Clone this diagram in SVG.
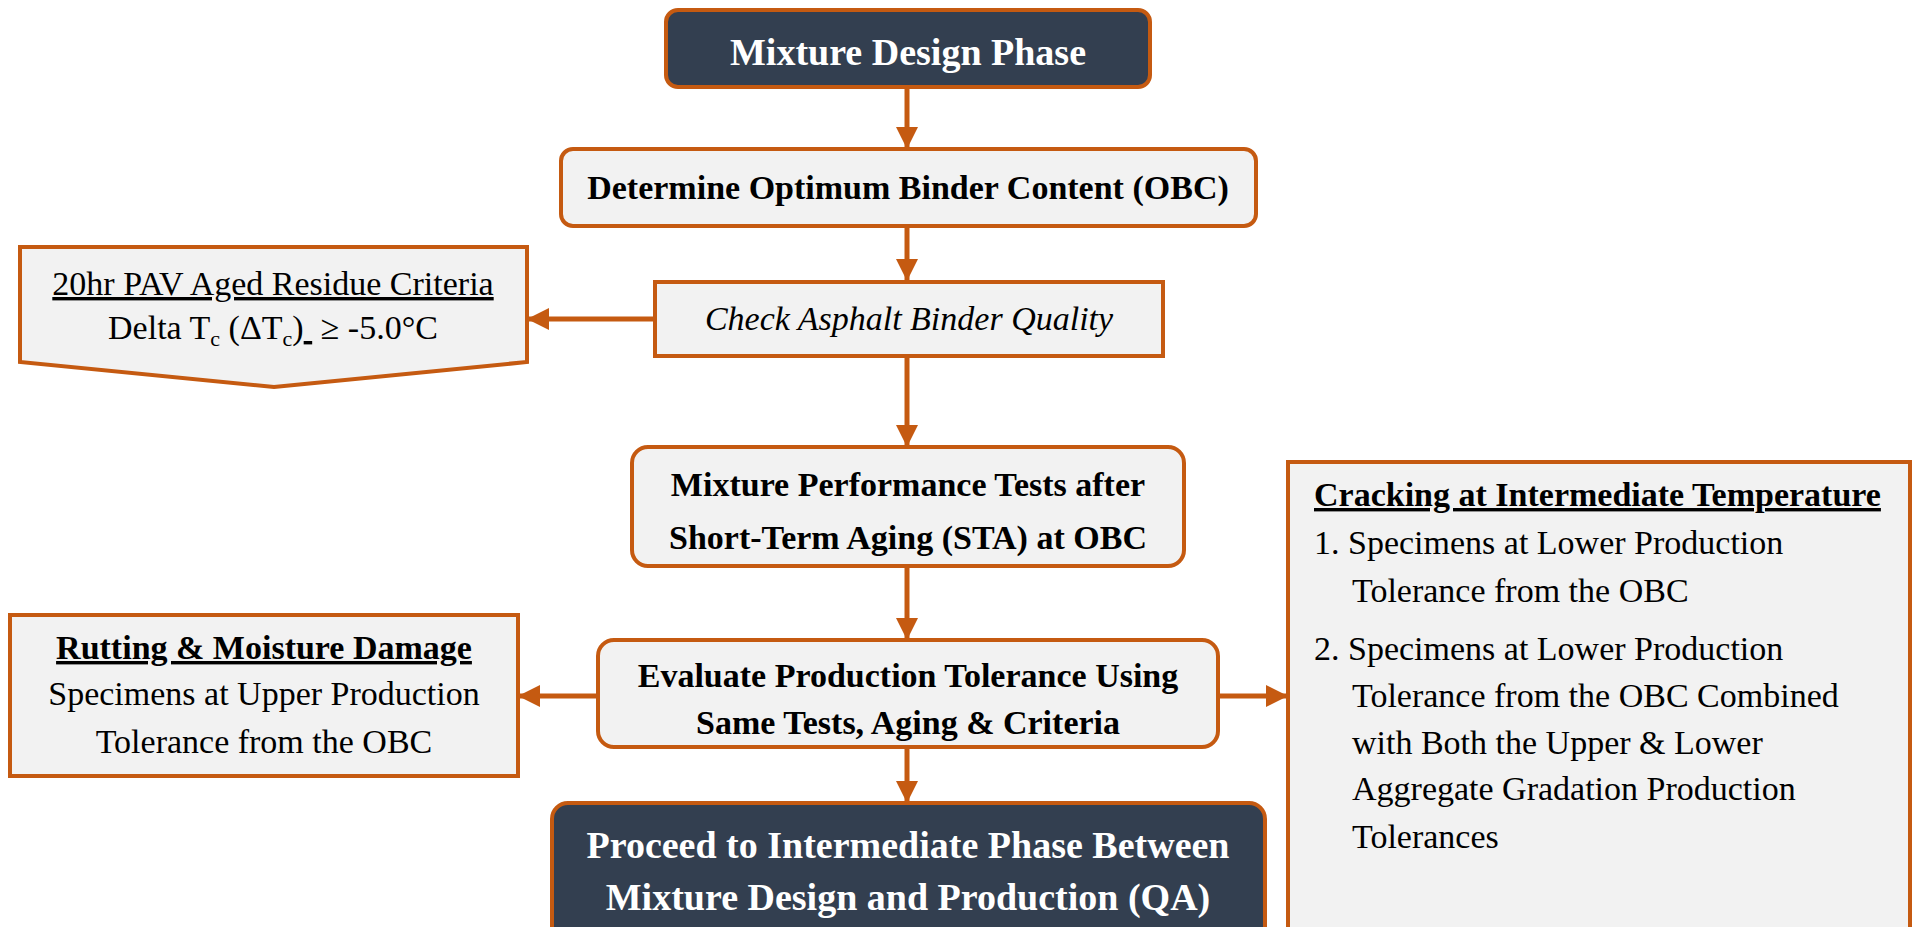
<svg xmlns="http://www.w3.org/2000/svg" width="1916" height="927" viewBox="0 0 1916 927">
<style>
.box{fill:#F2F2F2;stroke:#C55A11;stroke-width:4}
.dark{fill:#333F50;stroke:#C55A11;stroke-width:4}
.t{font-family:"Liberation Serif","Times New Roman",serif;font-size:34px;fill:#000}
.b{font-weight:bold}
.w{fill:#FFFFFF;font-size:38px;font-weight:bold}
.c{text-anchor:middle}
.conn{stroke:#C55A11;stroke-width:5;fill:none}
</style>
<defs>
<marker id="ah" viewBox="0 0 10 10" refX="10" refY="5" markerWidth="4.4" markerHeight="4.4" orient="auto" markerUnits="strokeWidth">
<path d="M0,0 L10,5 L0,10 Z" fill="#C55A11"/>
</marker>
</defs>
<rect width="1916" height="927" fill="#FFFFFF"/>
<g id="connectors">
<line class="conn" x1="907" y1="87" x2="907" y2="149" marker-end="url(#ah)"/>
<line class="conn" x1="907" y1="226" x2="907" y2="281" marker-end="url(#ah)"/>
<line class="conn" x1="655" y1="319" x2="527" y2="319" marker-end="url(#ah)"/>
<line class="conn" x1="907" y1="356" x2="907" y2="447" marker-end="url(#ah)"/>
<line class="conn" x1="907" y1="566" x2="907" y2="640" marker-end="url(#ah)"/>
<line class="conn" x1="598" y1="696" x2="518" y2="696" marker-end="url(#ah)"/>
<line class="conn" x1="1218" y1="696" x2="1288" y2="696" marker-end="url(#ah)"/>
<line class="conn" x1="907" y1="747" x2="907" y2="803" marker-end="url(#ah)"/>
</g>
<g id="mixture-design-phase">
<rect class="dark" x="666" y="10" width="484" height="77" rx="12"/>
<text class="t w c" x="908" y="65">Mixture Design Phase</text>
</g>
<g id="determine-obc">
<rect class="box" x="561" y="149" width="695" height="77" rx="12"/>
<text class="t b c" x="908" y="199">Determine Optimum Binder Content (OBC)</text>
</g>
<g id="check-binder">
<rect class="box" x="655" y="282" width="508" height="74"/>
<text class="t c" x="909" y="330" font-style="italic">Check Asphalt Binder Quality</text>
</g>
<g id="pav-criteria">
<polygon class="box" points="20,247 527,247 527,362 274,387 20,362"/>
<text class="t c" x="273" y="295" text-decoration="underline">20hr PAV Aged Residue Criteria</text>
<text class="t c" x="273" y="339">Delta T<tspan font-size="22" dy="7">c</tspan><tspan dy="-7"> (ΔT</tspan><tspan font-size="22" dy="7">c</tspan><tspan dy="-7">)</tspan><tspan text-decoration="underline">&#160;</tspan> ≥ -5.0°C</text>
</g>
<g id="sta-tests">
<rect class="box" x="632" y="447" width="552" height="119" rx="16"/>
<text class="t b c" x="908" y="496">Mixture Performance Tests after</text>
<text class="t b c" x="908" y="549">Short-Term Aging (STA) at OBC</text>
</g>
<g id="evaluate-tolerance">
<rect class="box" x="598" y="640" width="620" height="107" rx="16"/>
<text class="t b c" x="908" y="687">Evaluate Production Tolerance Using</text>
<text class="t b c" x="908" y="734">Same Tests, Aging &amp; Criteria</text>
</g>
<g id="rutting">
<rect class="box" x="10" y="615" width="508" height="161"/>
<text class="t b c" x="264" y="659" text-decoration="underline">Rutting &amp; Moisture Damage</text>
<text class="t c" x="264" y="705">Specimens at Upper Production</text>
<text class="t c" x="264" y="753">Tolerance from the OBC</text>
</g>
<g id="cracking">
<rect class="box" x="1288" y="462" width="622" height="475"/>
<text class="t b" x="1314" y="506" text-decoration="underline">Cracking at Intermediate Temperature</text>
<text class="t" x="1314" y="554">1. Specimens at Lower Production</text>
<text class="t" x="1352" y="602">Tolerance from the OBC</text>
<text class="t" x="1314" y="660">2. Specimens at Lower Production</text>
<text class="t" x="1352" y="707">Tolerance from the OBC Combined</text>
<text class="t" x="1352" y="754">with Both the Upper &amp; Lower</text>
<text class="t" x="1352" y="800">Aggregate Gradation Production</text>
<text class="t" x="1352" y="848">Tolerances</text>
</g>
<g id="proceed-qa">
<rect class="dark" x="552" y="803" width="713" height="140" rx="16"/>
<text class="t w c" x="908" y="858">Proceed to Intermediate Phase Between</text>
<text class="t w c" x="908" y="910">Mixture Design and Production (QA)</text>
</g>
</svg>
